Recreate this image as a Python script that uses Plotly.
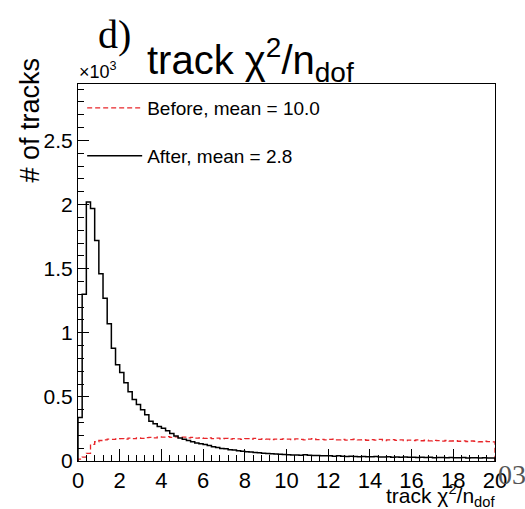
import plotly.graph_objects as go

# Histogram binning: 100 bins of width 0.2 on [0, 20]
bin_edges = [round(0.2 * i, 1) for i in range(101)]

after_counts = [
    340, 1300, 2020, 1970, 1720, 1460, 1270, 1070, 880, 750,
    690, 610, 540, 480, 440, 400, 360, 310, 290, 270,
    255, 235, 215, 195, 180, 170, 160, 150, 140, 135,
    128, 120, 112, 105, 98, 95, 88, 85, 80, 76,
    73, 70, 66, 64, 61, 58, 56, 54, 52, 50,
    49, 47, 46, 45, 48, 44, 42, 43, 41, 40,
    40, 38, 41, 37, 36, 38, 35, 34, 36, 33,
    33, 35, 32, 31, 33, 30, 31, 29, 32, 30,
    29, 28, 30, 27, 29, 26, 28, 27, 25, 27,
    26, 25, 27, 24, 26, 25, 23, 25, 24, 23,
]

before_counts = [
    15, 30, 60, 130, 150, 160, 165, 170, 168, 172,
    175, 170, 178, 174, 180, 176, 182, 185, 180, 188,
    186, 190, 184, 188, 182, 186, 180, 184, 178, 181,
    176, 180, 174, 178, 172, 176, 170, 175, 172, 169,
    174, 170, 176, 168, 172, 170, 166, 171, 168, 173,
    170, 166, 172, 168, 165, 170, 174, 167, 169, 164,
    168, 171, 165, 169, 163, 167, 170, 164, 166, 162,
    166, 163, 168, 160, 164, 167, 161, 165, 159, 163,
    160, 164, 158, 162, 157, 161, 159, 155, 160, 156,
    158, 154, 157, 152, 156, 153, 150, 154, 151, 149,
]

y_tickvals = [0, 500, 1000, 1500, 2000, 2500]
y_ticktext = ["0", "0.5", "1", "1.5", "2", "2.5"]
x_tickvals = [0, 2, 4, 6, 8, 10, 12, 14, 16, 18, 20]
x_ticktext = [str(v) for v in x_tickvals]

legend_before = "Before, mean = 10.0"
legend_after = "After, mean = 2.8"


def step_xy(edges, counts):
    xs = [edges[0]] + list(edges[:-1]) + [edges[-1], edges[-1]]
    ys = [0] + list(counts) + [counts[-1], 0]
    return xs, ys


FONT = "Liberation Sans, Arial, Helvetica, sans-serif"
SERIF = "Liberation Serif, DejaVu Serif, serif"

L, R, T, B = 78, 30, 84, 48
W, H = 525, 509
plot_w = W - L - R
plot_h = H - T - B


def px_x(px):
    return (px - L) / plot_w


def px_y(py):
    return (H - B - py) / plot_h


fig = go.Figure()

bx, by = step_xy(bin_edges, before_counts)
fig.add_trace(go.Scatter(
    x=bx, y=by, mode="lines", line_shape="hv",
    line=dict(color="#e8262a", width=1.3, dash="5px,3px"),
    name=legend_before, legend="legend", showlegend=True,
))

ax, ay = step_xy(bin_edges, after_counts)
fig.add_trace(go.Scatter(
    x=ax, y=ay, mode="lines", line_shape="hv",
    line=dict(color="black", width=1.5),
    name=legend_after, legend="legend2", showlegend=True,
))

fig.update_layout(
    width=W, height=H,
    margin=dict(l=L, r=R, t=T, b=B),
    paper_bgcolor="white", plot_bgcolor="white",
    font=dict(family=FONT, color="black"),
    showlegend=True,
    legend=dict(x=0.01, y=px_y(89), xanchor="left", yanchor="top",
                bgcolor="rgba(0,0,0,0)", font=dict(size=19, family=FONT),
                itemwidth=55),
    legend2=dict(x=0.01, y=px_y(137), xanchor="left", yanchor="top",
                 bgcolor="rgba(0,0,0,0)", font=dict(size=19, family=FONT),
                 itemwidth=55),
)

fig.update_xaxes(
    range=[0, 20], showgrid=False, zeroline=False,
    showline=True, linecolor="black", linewidth=1, mirror=True,
    ticks="inside", ticklen=12, tickcolor="black", tickwidth=1,
    tickvals=x_tickvals, ticktext=x_ticktext,
    tickfont=dict(size=22, family=FONT), ticklabelstandoff=0,
    minor=dict(ticks="inside", ticklen=6, dtick=0.4, tickcolor="black", showgrid=False),
)
fig.update_yaxes(
    range=[0, 2940], showgrid=False, zeroline=False,
    showline=True, linecolor="black", linewidth=1, mirror=True,
    ticks="inside", ticklen=11, tickcolor="black", tickwidth=1,
    tickvals=y_tickvals, ticktext=y_ticktext,
    tickfont=dict(size=21, family=FONT),
    minor=dict(ticks="inside", ticklen=6, dtick=100, tickcolor="black", showgrid=False),
)

annotations = [
    ("track χ<sup>2</sup>/n<sub>dof</sub>", 145, 60, 40, FONT, "black", "left"),
    ("d)", 96, 34, 40, SERIF, "black", "left"),
    ("×10<sup>3</sup>", 77, 70, 18, FONT, "black", "left"),
    ("track χ<sup>2</sup>/n<sub>dof</sub>", 497, 495, 21, FONT, "black", "right"),
    ("03", 496, 474, 28, SERIF, "#555555", "left"),
]
for text, x, y, size, fam, col, anchor in annotations:
    fig.add_annotation(text=text, x=px_x(x), y=px_y(y), xref="paper", yref="paper",
                       showarrow=False, font=dict(size=size, family=fam, color=col),
                       xanchor=anchor, yanchor="middle")

fig.add_annotation(text="# of tracks", x=px_x(29), y=px_y(56), xref="paper", yref="paper",
                   textangle=-90, showarrow=False, xanchor="center", yanchor="top",
                   font=dict(size=27, family=FONT))

fig.write_html("out.html")
